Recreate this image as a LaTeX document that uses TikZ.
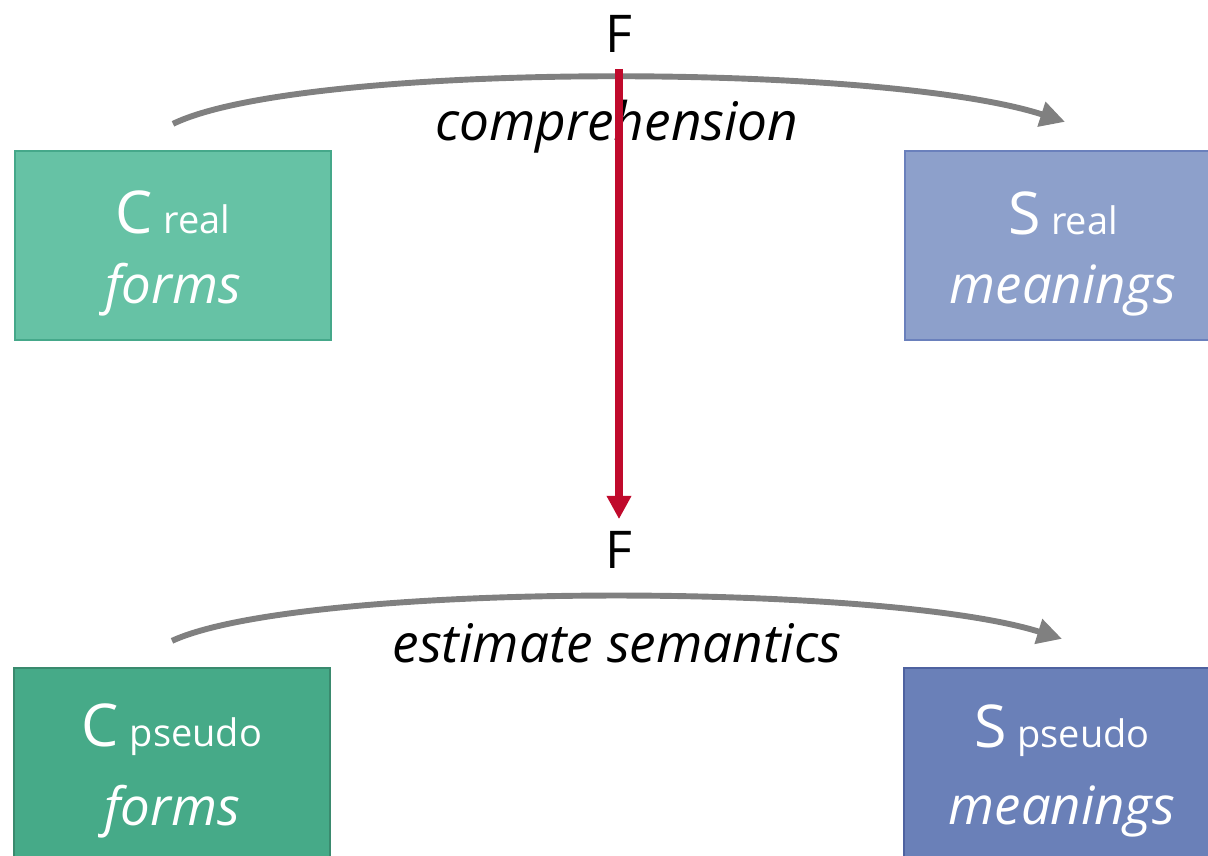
\documentclass[tikz,border=0pt]{standalone}
\usepackage{fontspec}
\setmainfont{Open Sans}
\usetikzlibrary{arrows.meta,positioning}

\definecolor{realgreen}{HTML}{66C2A5}
\definecolor{realgreenline}{HTML}{45A88A}
\definecolor{realblue}{HTML}{8DA0CB}
\definecolor{realblueline}{HTML}{6A80BC}
\definecolor{pseudogreen}{HTML}{46AA88}
\definecolor{pseudogreenline}{HTML}{3A8A6E}
\definecolor{pseudoblue}{HTML}{6A80B8}
\definecolor{pseudoblueline}{HTML}{4E62A0}
\definecolor{flowgray}{HTML}{808080}
\definecolor{mapred}{HTML}{C00A2C}

\newcommand{\boxlabel}[3]{\rule{0pt}{42pt}{\fontsize{42}{42}\selectfont #1\hspace{0.18em}}{\fontsize{27}{27}\selectfont #2}\\[20pt]{\fontsize{37.5}{37.5}\selectfont\itshape #3}}

\begin{document}
\begin{tikzpicture}[x=0.025cm, y=-0.025cm,
  box/.style={rectangle, draw, line width=1.6pt, minimum width=7.9cm, minimum height=4.725cm, text=white, align=center, inner sep=0pt},
  flow/.style={draw=flowgray, line width=4.2pt, -{Triangle[length=0.62cm, width=0.62cm]}},
  flowlabel/.style={font=\fontsize{37.8}{37.8}\selectfont\itshape},
  mapname/.style={font=\fontsize{37}{37}\selectfont, inner sep=0pt}]
  \useasboundingbox (0,0) rectangle (1208,855);

  % boxes
  \node (creal) [box, fill=realgreen, draw=realgreenline] at (173,245.5) {\boxlabel{C}{real}{forms}};
  \node (sreal) [box, fill=realblue, draw=realblueline] at (1063,245.5) {\boxlabel{S}{real}{meanings}};
  \node (cpseudo) [box, fill=pseudogreen, draw=pseudogreenline] at (172,762.5) {\boxlabel{C}{pseudo}{forms}};
  \node (spseudo) [box, fill=pseudoblue, draw=pseudoblueline] at (1062,762.5) {\boxlabel{S}{pseudo}{meanings}};

  % arcs
  \draw[flow] ([yshift=0.65cm]creal.north) .. controls (300,62) and (880,62) .. ([xshift=0.05cm, yshift=0.7cm]sreal.north);
  \draw[flow] ([yshift=0.65cm]cpseudo.north) .. controls (300,582) and (880,582) .. ([yshift=0.7cm]spseudo.north);
  \node (comp) [flowlabel] at (617,127) {comprehension};
  \node (estim) [flowlabel] at (617,643) {estimate semantics};

  % F
  \node (ftop) [mapname] at (619,34) {F};
  \node (fbot) [mapname] at (619,550) {F};
  \draw[draw=mapred, line width=5pt, -{Triangle[length=0.58cm, width=0.58cm]}, shorten <=0.4cm, shorten >=0.3cm] (ftop) -- (fbot);
\end{tikzpicture}
\end{document}
